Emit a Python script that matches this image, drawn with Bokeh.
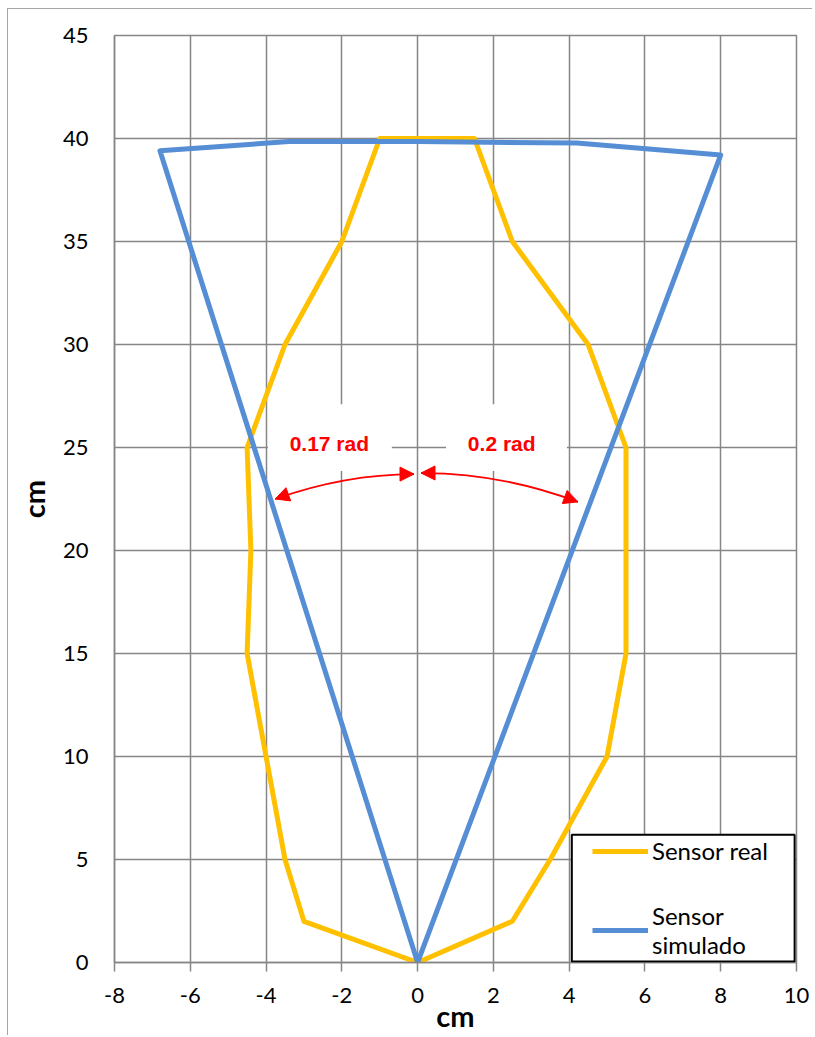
from bokeh.plotting import figure
from bokeh.models import (Range1d, Legend, LegendItem, Label, Arrow, NormalHead,
                          FixedTicker, BoxAnnotation)
from bokeh.embed import file_html
from bokeh.resources import INLINE

# ---- data ----
real_x = [0, -3, -3.5, -4, -4.5, -4.4, -4.5, -3.5, -2, -1, 1.5, 2.5, 4.5, 5.5, 5.5, 5, 3.5, 2.5, 0]
real_y = [0, 2, 5, 10, 15, 20, 25, 30, 35, 40, 40, 35, 30, 25, 15, 10, 5, 2, 0]
sim_x = [0, -6.8, -3.4, 0, 4.2, 8.0, 0]
sim_y = [0, 39.4, 39.85, 39.85, 39.78, 39.2, 0]

x_ticks = [-8, -6, -4, -2, 0, 2, 4, 6, 8, 10]
y_ticks = [0, 5, 10, 15, 20, 25, 30, 35, 40, 45]
series_names = ["Sensor real", "Sensor\nsimulado"]
angle_labels = ["0.17 rad", "0.2 rad"]

# annotation geometry (data units)
angle_label_x = [-2.33, 2.22]
angle_label_y = 25.2
box_left = [-3.95, 0.75]
box_right = [-0.68, 3.94]
box_top = 27.1
box_bottom = 23.86
arc_p0 = [(-3.76, 22.50), (0.09, 23.76)]
arc_p1 = [(-0.095, 23.71), (4.23, 22.36)]
arc_c = [(-1.93, 23.70), (2.16, 23.78)]
legend_frame = dict(left=4.07, right=9.95, top=6.2, bottom=0.05)

GRID = "#868686"
FONT = "Lato"

p = figure(width=805, height=1027, x_range=Range1d(-8, 10), y_range=Range1d(0, 45),
           output_backend="svg", toolbar_location=None,
           min_border_left=106, min_border_right=17, min_border_top=26, min_border_bottom=74,
           background_fill_color="white", border_fill_color="white")
p.styles = {"margin-left": "7px", "margin-top": "8px",
            "border-left": "1.5px solid #a6a6a6", "border-top": "1.5px solid #a6a6a6"}

p.outline_line_color = GRID
p.outline_line_width = 1.5
p.grid.grid_line_color = GRID
p.grid.grid_line_width = 1.5

p.xaxis.ticker = FixedTicker(ticks=x_ticks)
p.yaxis.ticker = FixedTicker(ticks=y_ticks)
p.xaxis.major_label_overrides = {t: str(t) for t in x_ticks}
p.yaxis.major_label_overrides = {t: str(t) for t in y_ticks}
for ax in (p.xaxis, p.yaxis):
    ax.axis_line_color = GRID
    ax.axis_line_width = 1.5
    ax.major_tick_line_color = GRID
    ax.major_tick_line_width = 1.5
    ax.minor_tick_line_color = None
    ax.major_label_text_font = FONT
    ax.major_label_text_font_size = "22px"
    ax.major_label_text_color = "black"
    ax.axis_label = "cm"
    ax.axis_label_text_font = FONT
    ax.axis_label_text_font_style = "bold"
    ax.axis_label_text_font_size = "29px"
    ax.axis_label_text_color = "black"
p.xaxis.major_tick_out = 9
p.xaxis.major_tick_in = 0
p.xaxis.major_label_standoff = 16
p.xaxis.axis_label_text_line_height = 1.0
p.xaxis.axis_label_standoff = -8
p.yaxis.major_tick_out = 0
p.yaxis.major_tick_in = 0
p.yaxis.major_label_standoff = 26
p.yaxis.axis_label_standoff = 9

# white boxes behind the angle labels
p.quad(left=box_left, right=box_right, top=box_top, bottom=box_bottom,
       fill_color="white", line_color=None)

r_real = p.line(real_x, real_y, line_color="#FFC000", line_width=5, line_join="round")
r_sim = p.line(sim_x, sim_y, line_color="#558ED5", line_width=5, line_join="round")

# curved double arrows
RED = "#FF0000"
for (x0, y0), (x1, y1), (cx, cy) in zip(arc_p0, arc_p1, arc_c):
    p.quadratic(x0=[x0], y0=[y0], x1=[x1], y1=[y1], cx=[cx], cy=[cy],
                line_color=RED, line_width=1.8)
    for (px, py) in ((x0, y0), (x1, y1)):
        k = 0.04
        p.add_layout(Arrow(end=NormalHead(size=14, fill_color=RED, line_color=RED, line_width=1),
                           x_start=px + k * (cx - px), y_start=py + k * (cy - py),
                           x_end=px, y_end=py, line_alpha=0))

for lx, txt in zip(angle_label_x, angle_labels):
    p.add_layout(Label(x=lx, y=angle_label_y, text=txt, text_font="Liberation Sans",
                       text_font_style="bold", text_font_size="21px", text_color=RED,
                       text_align="center", text_baseline="middle"))

# legend frame (white box with black border), then the legend items on it
p.add_layout(BoxAnnotation(**legend_frame, fill_color="white", fill_alpha=1,
                           line_color="black", line_width=2, line_alpha=1))
legend = Legend(items=[LegendItem(label=series_names[0], renderers=[r_real]),
                       LegendItem(label=series_names[1], renderers=[r_sim])],
                location=(478, 3), margin=0, padding=0, spacing=36,
                glyph_width=56, glyph_height=20, label_standoff=4,
                label_text_font=FONT, label_text_font_size="24px",
                label_text_line_height=1.4,
                label_text_color="black", label_width=120,
                border_line_alpha=0, background_fill_alpha=0)
p.add_layout(legend)

open("out.html", "w").write(file_html(p, INLINE))
